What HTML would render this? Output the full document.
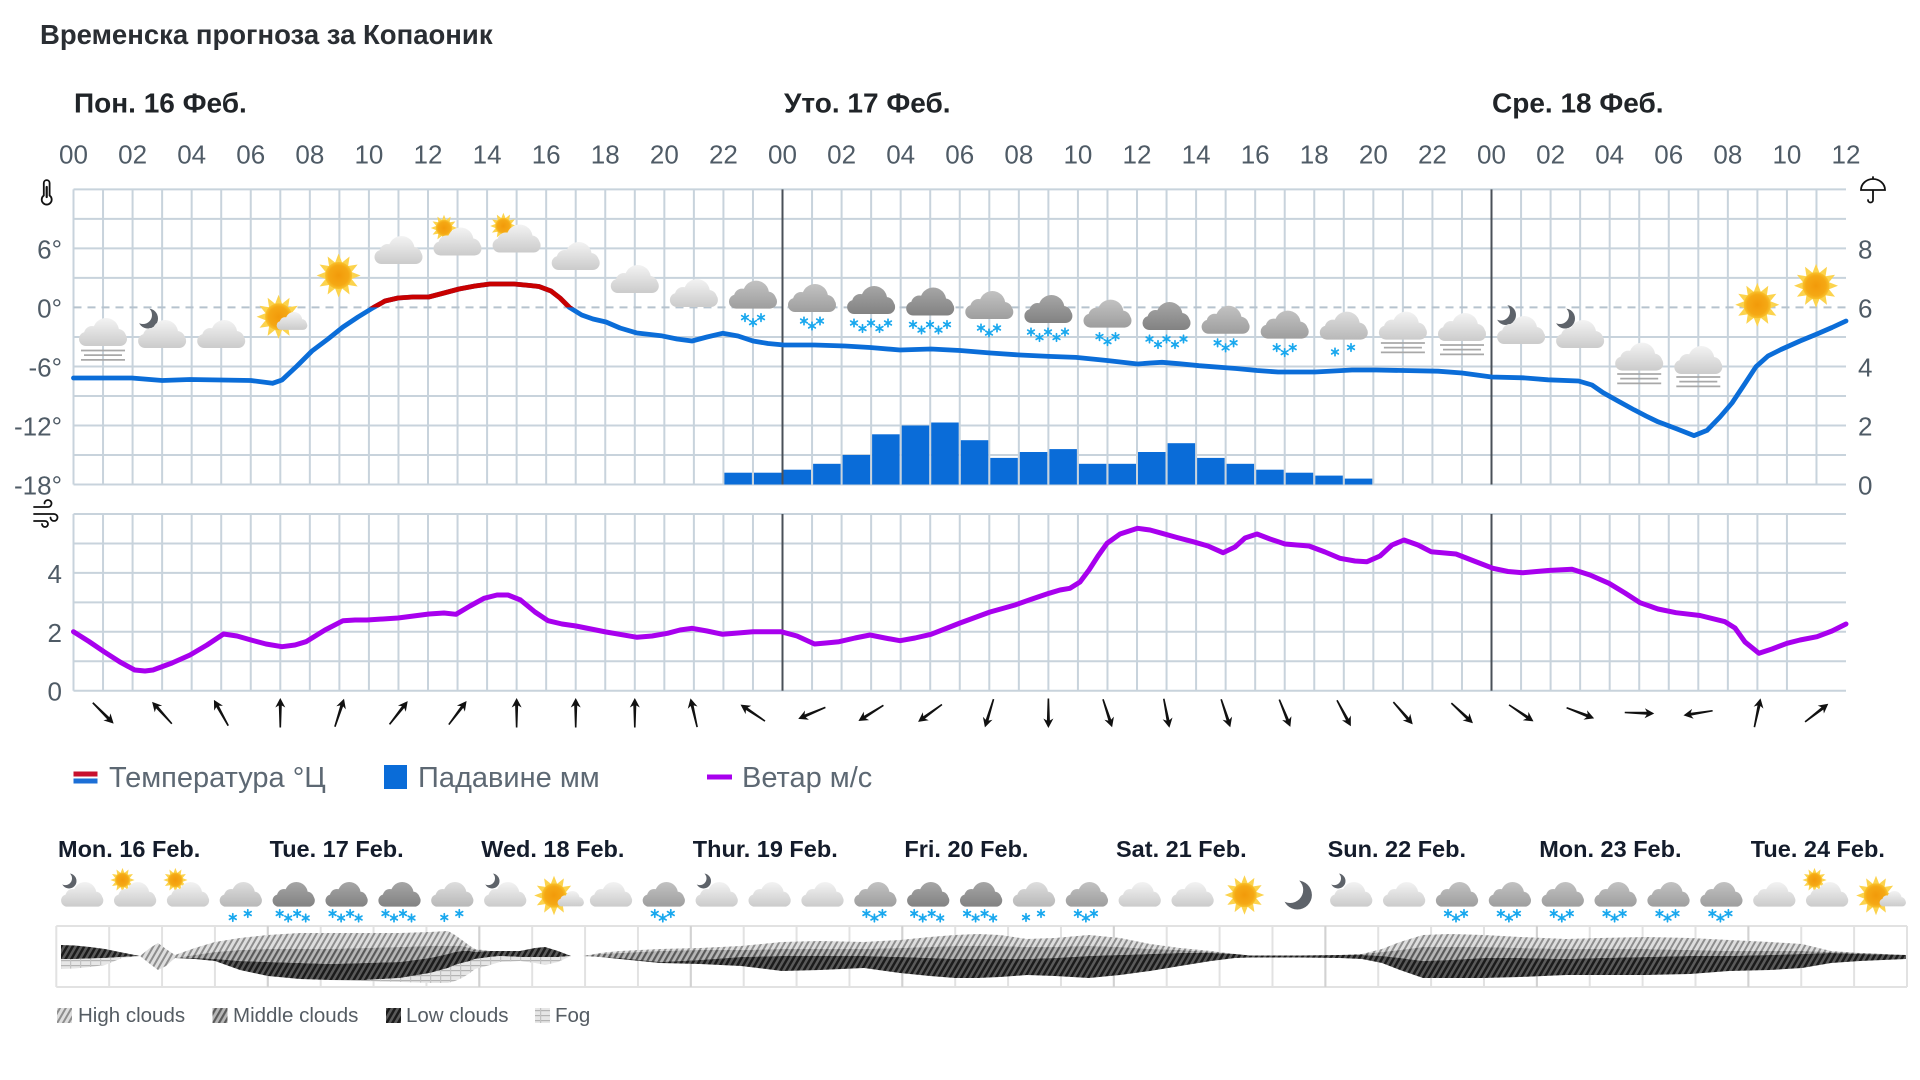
<!DOCTYPE html>
<html><head><meta charset="utf-8"><style>
html,body{margin:0;padding:0;background:#fff;width:1920px;height:1080px;overflow:hidden}
svg{display:block}
text{font-family:"Liberation Sans",Arial,sans-serif}
</style></head><body>
<svg width="1920" height="1080" viewBox="0 0 1920 1080" xmlns="http://www.w3.org/2000/svg">
<defs>
<linearGradient id="gL" gradientUnits="userSpaceOnUse" x1="0" y1="0" x2="0" y2="28"><stop offset="0" stop-color="#f3f3f3"/><stop offset="1" stop-color="#cbcbcb"/></linearGradient>
<linearGradient id="gL2" gradientUnits="userSpaceOnUse" x1="0" y1="0" x2="0" y2="28"><stop offset="0" stop-color="#dedede"/><stop offset="1" stop-color="#b8b8b8"/></linearGradient>
<linearGradient id="gM" gradientUnits="userSpaceOnUse" x1="0" y1="0" x2="0" y2="28"><stop offset="0" stop-color="#c2c2c2"/><stop offset="1" stop-color="#9e9e9e"/></linearGradient>
<linearGradient id="gD" gradientUnits="userSpaceOnUse" x1="0" y1="0" x2="0" y2="28"><stop offset="0" stop-color="#a6a6a6"/><stop offset="1" stop-color="#828282"/></linearGradient>
<radialGradient id="gS"><stop offset="0" stop-color="#f29a0a"/><stop offset="0.75" stop-color="#f5a814"/><stop offset="1" stop-color="#f9c12c"/></radialGradient>
<g id="cL" fill="url(#gL)"><circle cx="14" cy="16" r="8"/><circle cx="28" cy="13" r="13"/><circle cx="40" cy="19" r="8"/><rect x="1" y="14" width="48" height="14" rx="7"/></g>
<g id="cL2" fill="url(#gL2)"><circle cx="14" cy="16" r="8"/><circle cx="28" cy="13" r="13"/><circle cx="40" cy="19" r="8"/><rect x="1" y="14" width="48" height="14" rx="7"/></g>
<g id="cM" fill="url(#gM)"><circle cx="14" cy="16" r="8"/><circle cx="28" cy="13" r="13"/><circle cx="40" cy="19" r="8"/><rect x="1" y="14" width="48" height="14" rx="7"/></g>
<g id="cD" fill="url(#gD)"><circle cx="14" cy="16" r="8"/><circle cx="28" cy="13" r="13"/><circle cx="40" cy="19" r="8"/><rect x="1" y="14" width="48" height="14" rx="7"/></g>
<g id="sun"><polygon fill="#fcd34d" points="0,-22 3.49,-13.04 11,-19.05 9.55,-9.55 19.05,-11 13.04,-3.49 22,0 13.04,3.49 19.05,11 9.55,9.55 11,19.05 3.49,13.04 0,22 -3.49,13.04 -11,19.05 -9.55,9.55 -19.05,11 -13.04,3.49 -22,0 -13.04,-3.49 -19.05,-11 -9.55,-9.55 -11,-19.05 -3.49,-13.04"/><circle r="13.5" fill="url(#gS)"/></g>
<mask id="mm" maskUnits="userSpaceOnUse" x="-15" y="-15" width="30" height="30"><rect x="-15" y="-15" width="30" height="30" fill="#fff"/><circle cx="-5" cy="-3.5" r="9" fill="#000"/></mask>
<g id="moon"><circle r="10" fill="#5e636a" mask="url(#mm)"/></g>
<g id="fog" stroke="#a8a8a8" stroke-width="1.8"><line x1="3" y1="0" x2="47" y2="0"/><line x1="6" y1="4.6" x2="44" y2="4.6"/><line x1="3" y1="9.4" x2="47" y2="9.4"/></g>
<g id="sf" stroke="#1aa8ee" stroke-width="1.7" stroke-linecap="round"><line x1="0" y1="-3.8" x2="0" y2="3.8"/><line x1="-3.3" y1="-1.9" x2="3.3" y2="1.9"/><line x1="-3.3" y1="1.9" x2="3.3" y2="-1.9"/></g>
<g id="arr"><polygon points="0,-15 5,-5.5 1.5,-7.5 0.8,14.5 -0.8,14.5 -1.5,-7.5 -5,-5.5" fill="#111"/></g>
<pattern id="pH" width="5" height="5" patternUnits="userSpaceOnUse" patternTransform="rotate(30)"><rect width="5" height="5" fill="#dedede"/><rect width="2" height="5" fill="#8e8e8e"/></pattern>
<pattern id="pM" width="5" height="5" patternUnits="userSpaceOnUse" patternTransform="rotate(30)"><rect width="5" height="5" fill="#b6b6b6"/><rect width="2.2" height="5" fill="#5a5a5a"/></pattern>
<pattern id="pL" width="5" height="5" patternUnits="userSpaceOnUse" patternTransform="rotate(30)"><rect width="5" height="5" fill="#5a5a5a"/><rect width="2.5" height="5" fill="#1b1b1b"/></pattern>
<pattern id="pF" width="10" height="5" patternUnits="userSpaceOnUse"><rect width="10" height="5" fill="#e6e6e6"/><rect width="10" height="1.2" fill="#b4b4b4"/><rect width="1.2" height="5" fill="#c2c2c2"/></pattern>
<clipPath id="above"><rect x="0" y="0" width="1920" height="307.4"/></clipPath>
</defs>

<!-- Title -->
<text x="40" y="44" font-size="27.5" font-weight="bold" fill="#2a2e33">Временска прогноза за Копаоник</text>

<!-- Day headers -->
<g font-size="28" font-weight="bold" fill="#202428">
<text x="74" y="112.5">Пон. 16 Феб.</text>
<text x="784" y="112.5">Уто. 17 Феб.</text>
<text x="1492" y="112.5">Сре. 18 Феб.</text>
</g>

<!-- Hour labels -->
<g font-size="26" fill="#4f5b66" text-anchor="middle">
<text x="73.5" y="163.5">00</text><text x="132.58" y="163.5">02</text><text x="191.67" y="163.5">04</text><text x="250.75" y="163.5">06</text><text x="309.84" y="163.5">08</text><text x="368.92" y="163.5">10</text><text x="428" y="163.5">12</text><text x="487.09" y="163.5">14</text><text x="546.17" y="163.5">16</text><text x="605.26" y="163.5">18</text><text x="664.34" y="163.5">20</text><text x="723.42" y="163.5">22</text>
<text x="782.51" y="163.5">00</text><text x="841.59" y="163.5">02</text><text x="900.68" y="163.5">04</text><text x="959.76" y="163.5">06</text><text x="1018.84" y="163.5">08</text><text x="1077.93" y="163.5">10</text><text x="1137.01" y="163.5">12</text><text x="1196.1" y="163.5">14</text><text x="1255.18" y="163.5">16</text><text x="1314.26" y="163.5">18</text><text x="1373.35" y="163.5">20</text><text x="1432.43" y="163.5">22</text>
<text x="1491.52" y="163.5">00</text><text x="1550.6" y="163.5">02</text><text x="1609.68" y="163.5">04</text><text x="1668.77" y="163.5">06</text><text x="1727.85" y="163.5">08</text><text x="1786.94" y="163.5">10</text><text x="1846.02" y="163.5">12</text>
</g>

<!-- Grid temperature -->
<g stroke="#c8d3dc" stroke-width="2" fill="none">
<path d="M73.5 189.4v295.1m29.542-295.1v295.1m29.542-295.1v295.1m29.542-295.1v295.1m29.542-295.1v295.1m29.542-295.1v295.1m29.542-295.1v295.1m29.542-295.1v295.1m29.542-295.1v295.1m29.542-295.1v295.1m29.542-295.1v295.1m29.542-295.1v295.1m29.542-295.1v295.1m29.542-295.1v295.1m29.542-295.1v295.1m29.542-295.1v295.1m29.542-295.1v295.1m29.542-295.1v295.1m29.542-295.1v295.1m29.542-295.1v295.1m29.542-295.1v295.1m29.542-295.1v295.1m29.542-295.1v295.1m29.542-295.1v295.1m29.542-295.1v295.1m29.542-295.1v295.1m29.542-295.1v295.1m29.542-295.1v295.1m29.542-295.1v295.1m29.542-295.1v295.1m29.542-295.1v295.1m29.542-295.1v295.1m29.542-295.1v295.1m29.542-295.1v295.1m29.542-295.1v295.1m29.542-295.1v295.1m29.542-295.1v295.1m29.542-295.1v295.1m29.542-295.1v295.1m29.542-295.1v295.1m29.542-295.1v295.1m29.542-295.1v295.1m29.542-295.1v295.1m29.542-295.1v295.1m29.542-295.1v295.1m29.542-295.1v295.1m29.542-295.1v295.1m29.542-295.1v295.1m29.542-295.1v295.1m29.542-295.1v295.1m29.542-295.1v295.1m29.542-295.1v295.1m29.542-295.1v295.1m29.542-295.1v295.1m29.542-295.1v295.1m29.542-295.1v295.1m29.542-295.1v295.1m29.542-295.1v295.1m29.542-295.1v295.1m29.542-295.1v295.1"/>
<path d="M73.5 189.4H1846M73.5 218.9H1846M73.5 248.4H1846M73.5 277.9H1846M73.5 336.95H1846M73.5 366.5H1846M73.5 396H1846M73.5 425.5H1846M73.5 455H1846M73.5 484.5H1846"/>
<!-- wind grid -->
<path d="M73.5 514v176.7m29.542-176.7v176.7m29.542-176.7v176.7m29.542-176.7v176.7m29.542-176.7v176.7m29.542-176.7v176.7m29.542-176.7v176.7m29.542-176.7v176.7m29.542-176.7v176.7m29.542-176.7v176.7m29.542-176.7v176.7m29.542-176.7v176.7m29.542-176.7v176.7m29.542-176.7v176.7m29.542-176.7v176.7m29.542-176.7v176.7m29.542-176.7v176.7m29.542-176.7v176.7m29.542-176.7v176.7m29.542-176.7v176.7m29.542-176.7v176.7m29.542-176.7v176.7m29.542-176.7v176.7m29.542-176.7v176.7m29.542-176.7v176.7m29.542-176.7v176.7m29.542-176.7v176.7m29.542-176.7v176.7m29.542-176.7v176.7m29.542-176.7v176.7m29.542-176.7v176.7m29.542-176.7v176.7m29.542-176.7v176.7m29.542-176.7v176.7m29.542-176.7v176.7m29.542-176.7v176.7m29.542-176.7v176.7m29.542-176.7v176.7m29.542-176.7v176.7m29.542-176.7v176.7m29.542-176.7v176.7m29.542-176.7v176.7m29.542-176.7v176.7m29.542-176.7v176.7m29.542-176.7v176.7m29.542-176.7v176.7m29.542-176.7v176.7m29.542-176.7v176.7m29.542-176.7v176.7m29.542-176.7v176.7m29.542-176.7v176.7m29.542-176.7v176.7m29.542-176.7v176.7m29.542-176.7v176.7m29.542-176.7v176.7m29.542-176.7v176.7m29.542-176.7v176.7m29.542-176.7v176.7m29.542-176.7v176.7"/>
<path d="M73.5 514H1846M73.5 543.45H1846M73.5 572.9H1846M73.5 602.35H1846M73.5 631.8H1846M73.5 661.25H1846M73.5 690.7H1846"/>
</g>
<line x1="73.5" y1="307.4" x2="1846" y2="307.4" stroke="#b6c3ce" stroke-width="2" stroke-dasharray="8 6"/>

<!-- Axis labels -->
<g font-size="26" fill="#4f5b66">
<g text-anchor="end">
<text x="62" y="258.4">6°</text><text x="62" y="317.4">0°</text><text x="62" y="376.5">-6°</text><text x="62" y="435.5">-12°</text><text x="62" y="494.5">-18°</text>
<text x="62" y="582.9">4</text><text x="62" y="641.8">2</text><text x="62" y="700.7">0</text>
</g>
<text x="1858" y="258.4">8</text><text x="1858" y="317.4">6</text><text x="1858" y="376.5">4</text><text x="1858" y="435.5">2</text><text x="1858" y="494.5">0</text>
</g>

<!-- axis icons -->
<g fill="none" stroke="#111" stroke-width="1.8" stroke-linecap="round">
<path d="M43.8 195.5V183a2.9 2.9 0 0 1 5.8 0v12.5a5 5 0 1 1 -5.8 0z"/>
<path d="M46.7 187v10" stroke-width="2.2"/>
<path d="M34 507h14a3.5 3.5 0 1 0 -3.5 -3.5M34 514h20a3.5 3.5 0 1 1 -3.5 3.5M34 521h11a3 3 0 1 1 -3 3"/>
<path d="M1861 190a12 11 0 0 1 24 0zM1873 190v10a2.5 2.5 0 0 1 -5 0M1873 177v2"/>
</g>

<!-- Precipitation bars -->
<g fill="#0a6cd8">
<rect x="724.4" y="472.7" width="27.5" height="11.8"/>
<rect x="754.0" y="472.7" width="27.5" height="11.8"/>
<rect x="783.5" y="469.7" width="27.5" height="14.8"/>
<rect x="813.1" y="463.8" width="27.5" height="20.7"/>
<rect x="842.6" y="455.0" width="27.5" height="29.5"/>
<rect x="872.1" y="434.3" width="27.5" height="50.2"/>
<rect x="901.7" y="425.5" width="27.5" height="59.0"/>
<rect x="931.2" y="422.5" width="27.5" height="62.0"/>
<rect x="960.8" y="440.2" width="27.5" height="44.3"/>
<rect x="990.3" y="457.9" width="27.5" height="26.6"/>
<rect x="1019.8" y="452.0" width="27.5" height="32.5"/>
<rect x="1049.4" y="449.1" width="27.5" height="35.4"/>
<rect x="1078.9" y="463.8" width="27.5" height="20.7"/>
<rect x="1108.5" y="463.8" width="27.5" height="20.7"/>
<rect x="1138.0" y="452.0" width="27.5" height="32.5"/>
<rect x="1167.6" y="443.2" width="27.5" height="41.3"/>
<rect x="1197.1" y="457.9" width="27.5" height="26.6"/>
<rect x="1226.6" y="463.8" width="27.5" height="20.7"/>
<rect x="1256.2" y="469.7" width="27.5" height="14.8"/>
<rect x="1285.7" y="472.7" width="27.5" height="11.8"/>
<rect x="1315.3" y="475.6" width="27.5" height="8.9"/>
<rect x="1344.8" y="478.6" width="27.5" height="5.9"/>
</g>

<!-- Day separators -->
<g stroke="#4a5058" stroke-width="2">
<line x1="782.5" y1="189.4" x2="782.5" y2="484.5"/><line x1="1491.5" y1="189.4" x2="1491.5" y2="484.5"/>
<line x1="782.5" y1="514" x2="782.5" y2="690.7"/><line x1="1491.5" y1="514" x2="1491.5" y2="690.7"/>
</g>

<!-- Temperature line -->
<g fill="none" stroke-width="4.8" stroke-linejoin="round" stroke-linecap="round">
<polyline stroke="#0b6dd8" points="73.5,378 131.7,378 162.3,380.5 189.8,379.5 251,380.5 272.5,383.3 282,380 297,366 312,351 328,339 343,327 358,317 373.5,307.5 385,301 398,298 413,297 428.7,297 444,293 459,289 475,286 490,284 514,284 530,285.5 539,286.5 551,291 560,298 569.5,307.5 581.7,315 593,319 606,322 620,328 637,333 661,335.7 677,339 692,341 707,337 722.6,333.3 738,336 753,341 768,343.5 784,345 814.5,345 845,346 870,347.5 900,350 931,349 960,350.5 990.6,353 1020,355 1048.8,356.4 1076,357.4 1107,360.5 1137.6,364 1150,363 1162,362.3 1180,363.8 1199,365.7 1236,368.5 1257,370.5 1278,372 1315,372 1352,370 1376,370 1438,371.2 1462,373 1491.5,377 1523,377.8 1548,379.8 1578.5,381 1592,385 1603,392.6 1618,401 1634,409.8 1646,416 1658,421.8 1676.5,428.7 1694,435.6 1707,430.4 1720,417 1732,403 1744,385 1756,366.7 1768,356 1781,349.5 1800,341 1817,334 1832,327.5 1846,321"/>
<polyline clip-path="url(#above)" stroke="#c80000" points="358,317 373.5,307.5 385,301 398,298 413,297 428.7,297 444,293 459,289 475,286 490,284 514,284 530,285.5 539,286.5 551,291 560,298 569.5,307.5 581.7,315"/>
</g>

<!-- Wind line -->
<polyline fill="none" stroke="#a800ee" stroke-width="5" stroke-linejoin="round" stroke-linecap="round" points="73.5,631.7 89,641.5 104,651.7 120,662 134.7,670 145,671 153,670 172,663 190,655 207,645 223.5,634 237,636 251,640 266,644 282,646.7 295,645 306,641.7 325,630 343,620.7 355,620 367,620 398,618 429,614 444,613 456,614.3 470,606 484,598.3 497,595 508,595 520.5,600 535,612 548,620.7 562,624 576,626 606,632 637,637.3 652,636 667.5,633.3 680,630 692,628.3 707,631 722.6,634.3 738,633 753,631.7 781,631.7 797,636 814.5,644 826,643 839,641.7 855,638 870,635 885,638 900,640.7 915,638 931,634.3 946,628.5 960,623 990,612 1015,605 1032,599 1049,593.3 1060,590 1070,588.3 1080,582 1089,570 1098,556 1107,543.3 1120,534 1137.6,528.3 1150,530 1162,533.3 1177,537.5 1193,541.7 1208,546 1223,552.7 1235,547 1245,538 1257,534 1270,539 1285,544 1309,546 1325,552 1340,558.3 1355,561 1367,561.7 1380,556 1392,545 1404,540 1418,545 1431,551.7 1456,554 1474,561 1493,568.3 1508,571.5 1523,572.7 1548,570.5 1572,569.3 1590,575 1609,583.3 1625,593 1640,602.7 1658,609 1676,612.7 1700,615.5 1725,621.7 1735,628 1745,642 1759,653.3 1772,649 1787,643.3 1800,640 1817,636.7 1832,631 1846,624"/>

<!-- Top weather icons -->
<g>
<use href="#cL" x="78" y="318"/><use href="#fog" x="78" y="350.5"/>
<use href="#moon" x="148" y="318.5"/><use href="#cL" x="137.1" y="320"/>
<use href="#cL" x="196.2" y="320"/>
<use href="#sun" x="278.6" y="316.8"/><use href="#cL" transform="translate(276,312) scale(0.64)"/>
<use href="#sun" x="338.6" y="275.5"/>
<use href="#cL" x="373.5" y="236"/>
<use href="#sun" transform="translate(444,228) scale(0.6)"/><use href="#cL" x="432.5" y="227.5"/>
<use href="#sun" transform="translate(503.4,226) scale(0.6)"/><use href="#cL" x="491.6" y="224.5"/>
<use href="#cL" x="550.7" y="242"/>
<use href="#cL" x="609.8" y="265"/>
<use href="#cL" x="668.9" y="279"/>
<use href="#cM" x="728" y="280.6"/>
<use href="#cM" x="787" y="284"/>
<use href="#cD" x="846.1" y="286"/>
<use href="#cD" x="905.2" y="287.5"/>
<use href="#cM" x="964.3" y="291"/>
<use href="#cD" x="1023.4" y="295"/>
<use href="#cM" x="1082.5" y="299.6"/>
<use href="#cD" x="1141.5" y="302"/>
<use href="#cM" x="1200.6" y="305.8"/>
<use href="#cM" x="1259.7" y="310.6"/>
<use href="#cL2" x="1318.8" y="311.6"/>
<use href="#cL" x="1377.9" y="311.6"/><use href="#fog" x="1377.9" y="343"/>
<use href="#cL" x="1437" y="313"/><use href="#fog" x="1437" y="345"/>
<use href="#moon" x="1506" y="315"/><use href="#cL" x="1496.1" y="316"/>
<use href="#moon" x="1565" y="318.5"/><use href="#cL" x="1555.1" y="320"/>
<use href="#cL" x="1614.2" y="342.6"/><use href="#fog" x="1614.2" y="374"/>
<use href="#cL" x="1673.3" y="346"/><use href="#fog" x="1673.3" y="377"/>
<use href="#sun" x="1757.3" y="304.8"/>
<use href="#sun" x="1816" y="285.8"/>
</g>
<!-- Top snowflakes -->
<g>
<use href="#sf" x="745" y="317.6"/><use href="#sf" x="753" y="322.6"/><use href="#sf" x="761" y="317.6"/>
<use href="#sf" x="804" y="321"/><use href="#sf" x="812" y="326"/><use href="#sf" x="820" y="321"/>
<use href="#sf" x="854" y="323"/><use href="#sf" x="862.5" y="328.5"/><use href="#sf" x="871" y="323"/><use href="#sf" x="879.5" y="328.5"/><use href="#sf" x="888" y="323"/>
<use href="#sf" x="913" y="324.5"/><use href="#sf" x="921.5" y="330"/><use href="#sf" x="930" y="324.5"/><use href="#sf" x="938.5" y="330"/><use href="#sf" x="947" y="324.5"/>
<use href="#sf" x="981" y="328"/><use href="#sf" x="989" y="333"/><use href="#sf" x="997" y="328"/>
<use href="#sf" x="1031" y="332"/><use href="#sf" x="1039.5" y="337.5"/><use href="#sf" x="1048" y="332"/><use href="#sf" x="1056.5" y="337.5"/><use href="#sf" x="1065" y="332"/>
<use href="#sf" x="1099.5" y="336.6"/><use href="#sf" x="1107.5" y="341.6"/><use href="#sf" x="1115.5" y="336.6"/>
<use href="#sf" x="1149.5" y="339"/><use href="#sf" x="1158" y="344.5"/><use href="#sf" x="1166.5" y="339"/><use href="#sf" x="1175" y="344.5"/><use href="#sf" x="1183.5" y="339"/>
<use href="#sf" x="1217.6" y="342.8"/><use href="#sf" x="1225.6" y="347.8"/><use href="#sf" x="1233.6" y="342.8"/>
<use href="#sf" x="1276.7" y="347.6"/><use href="#sf" x="1284.7" y="352.6"/><use href="#sf" x="1292.7" y="347.6"/>
<use href="#sf" x="1335" y="352"/><use href="#sf" x="1351" y="347.5"/>
</g>

<!-- Wind arrows -->
<g>
<use href="#arr" transform="translate(103.04,713) rotate(135)"/>
<use href="#arr" transform="translate(162.13,713) rotate(-42)"/>
<use href="#arr" transform="translate(221.21,713) rotate(-29)"/>
<use href="#arr" transform="translate(280.29,713) rotate(0)"/>
<use href="#arr" transform="translate(339.38,713) rotate(18)"/>
<use href="#arr" transform="translate(398.46,713) rotate(38)"/>
<use href="#arr" transform="translate(457.55,713) rotate(37)"/>
<use href="#arr" transform="translate(516.63,713) rotate(0)"/>
<use href="#arr" transform="translate(575.71,713) rotate(0)"/>
<use href="#arr" transform="translate(634.8,713) rotate(0)"/>
<use href="#arr" transform="translate(693.88,713) rotate(-13)"/>
<use href="#arr" transform="translate(752.97,713) rotate(-56)"/>
<use href="#arr" transform="translate(812.05,713) rotate(-113)"/>
<use href="#arr" transform="translate(871.13,713) rotate(-122)"/>
<use href="#arr" transform="translate(930.22,713) rotate(-126)"/>
<use href="#arr" transform="translate(989.3,713) rotate(-163)"/>
<use href="#arr" transform="translate(1048.39,713) rotate(180)"/>
<use href="#arr" transform="translate(1107.47,713) rotate(162)"/>
<use href="#arr" transform="translate(1166.55,713) rotate(169)"/>
<use href="#arr" transform="translate(1225.64,713) rotate(162)"/>
<use href="#arr" transform="translate(1284.72,713) rotate(158)"/>
<use href="#arr" transform="translate(1343.81,713) rotate(152)"/>
<use href="#arr" transform="translate(1402.89,713) rotate(139)"/>
<use href="#arr" transform="translate(1461.97,713) rotate(133)"/>
<use href="#arr" transform="translate(1521.06,713) rotate(124)"/>
<use href="#arr" transform="translate(1580.14,713) rotate(111)"/>
<use href="#arr" transform="translate(1639.23,713) rotate(92)"/>
<use href="#arr" transform="translate(1698.31,713) rotate(-99)"/>
<use href="#arr" transform="translate(1757.39,713) rotate(12)"/>
<use href="#arr" transform="translate(1816.48,713) rotate(52)"/>
</g>

<!-- Legend -->
<rect x="73.5" y="771.5" width="24" height="5" fill="#c8102e"/>
<rect x="73.5" y="778.5" width="24" height="5" fill="#1c6fd6"/>
<rect x="384" y="765" width="23" height="24" fill="#0a6cd8"/>
<rect x="707" y="774.5" width="25" height="5" fill="#a800ee"/>
<g font-size="29" fill="#5d6873">
<text x="109" y="787">Температура °Ц</text>
<text x="418" y="787">Падавине мм</text>
<text x="742" y="787">Ветар м/с</text>
</g>

<!-- Bottom day labels -->
<g font-size="23.5" font-weight="bold" fill="#141c2b">
<text x="58" y="857">Mon. 16 Feb.</text>
<text x="269.6" y="857">Tue. 17 Feb.</text>
<text x="481.2" y="857">Wed. 18 Feb.</text>
<text x="692.8" y="857">Thur. 19 Feb.</text>
<text x="904.4" y="857">Fri. 20 Feb.</text>
<text x="1116" y="857">Sat. 21 Feb.</text>
<text x="1327.6" y="857">Sun. 22 Feb.</text>
<text x="1539.2" y="857">Mon. 23 Feb.</text>
<text x="1750.8" y="857">Tue. 24 Feb.</text>
</g>

<!-- Bottom icons -->
<g>
<use href="#moon" transform="translate(69,881) scale(0.75)"/><use href="#cL" transform="translate(60.2,882) scale(0.88)"/>
<use href="#sun" transform="translate(122.5,880) scale(0.55)"/><use href="#cL" transform="translate(113.1,882) scale(0.88)"/>
<use href="#sun" transform="translate(175.4,880) scale(0.55)"/><use href="#cL" transform="translate(166,882) scale(0.88)"/>
<use href="#cL2" transform="translate(218.8,882) scale(0.88)"/>
<use href="#cD" transform="translate(271.7,882) scale(0.88)"/>
<use href="#cD" transform="translate(324.6,882) scale(0.88)"/>
<use href="#cD" transform="translate(377.5,882) scale(0.88)"/>
<use href="#cL2" transform="translate(430.3,882) scale(0.88)"/>
<use href="#moon" transform="translate(492,881) scale(0.75)"/><use href="#cL" transform="translate(483.2,882) scale(0.88)"/>
<use href="#sun" transform="translate(554,895.5) scale(0.9)"/><use href="#cL" transform="translate(557,891) scale(0.55)"/>
<use href="#cL" transform="translate(589,882) scale(0.88)"/>
<use href="#cM" transform="translate(641.8,882) scale(0.88)"/>
<use href="#moon" transform="translate(703.5,881) scale(0.75)"/><use href="#cL" transform="translate(694.7,882) scale(0.88)"/>
<use href="#cL" transform="translate(747.6,882) scale(0.88)"/>
<use href="#cL" transform="translate(800.5,882) scale(0.88)"/>
<use href="#cM" transform="translate(853.4,882) scale(0.88)"/>
<use href="#cD" transform="translate(906.2,882) scale(0.88)"/>
<use href="#cD" transform="translate(959.1,882) scale(0.88)"/>
<use href="#cL2" transform="translate(1012,882) scale(0.88)"/>
<use href="#cM" transform="translate(1064.9,882) scale(0.88)"/>
<use href="#cL" transform="translate(1117.7,882) scale(0.88)"/>
<use href="#cL" transform="translate(1170.6,882) scale(0.88)"/>
<use href="#sun" transform="translate(1244.5,895) scale(0.9)"/>
<use href="#moon" transform="translate(1297.4,895) scale(1.45)"/>
<use href="#moon" transform="translate(1338,881) scale(0.75)"/><use href="#cL" transform="translate(1329.2,882) scale(0.88)"/>
<use href="#cL" transform="translate(1382.1,882) scale(0.88)"/>
<use href="#cM" transform="translate(1435,882) scale(0.88)"/>
<use href="#cM" transform="translate(1487.9,882) scale(0.88)"/>
<use href="#cM" transform="translate(1540.8,882) scale(0.88)"/>
<use href="#cM" transform="translate(1593.6,882) scale(0.88)"/>
<use href="#cM" transform="translate(1646.5,882) scale(0.88)"/>
<use href="#cM" transform="translate(1699.4,882) scale(0.88)"/>
<use href="#cL" transform="translate(1752.3,882) scale(0.88)"/>
<use href="#sun" transform="translate(1814.5,880) scale(0.55)"/><use href="#cL" transform="translate(1805.1,882) scale(0.88)"/>
<use href="#sun" transform="translate(1876,895.5) scale(0.9)"/><use href="#cL" transform="translate(1879,891) scale(0.55)"/>
</g>
<g>
<use href="#sf" x="232.8" y="917.5"/><use href="#sf" x="247.8" y="913.5"/>
<use href="#sf" x="279.7" y="913.5"/><use href="#sf" x="288.2" y="918"/><use href="#sf" x="297.2" y="913.5"/><use href="#sf" x="305.7" y="918"/>
<use href="#sf" x="332.6" y="913.5"/><use href="#sf" x="341.1" y="918"/><use href="#sf" x="350.1" y="913.5"/><use href="#sf" x="358.6" y="918"/>
<use href="#sf" x="385.5" y="913.5"/><use href="#sf" x="394" y="918"/><use href="#sf" x="403" y="913.5"/><use href="#sf" x="411.5" y="918"/>
<use href="#sf" x="444.3" y="917.5"/><use href="#sf" x="459.3" y="913.5"/>
<use href="#sf" x="654.8" y="913.5"/><use href="#sf" x="662.8" y="918"/><use href="#sf" x="670.8" y="913.5"/>
<use href="#sf" x="866.4" y="913.5"/><use href="#sf" x="874.4" y="918"/><use href="#sf" x="882.4" y="913.5"/>
<use href="#sf" x="914.2" y="913.5"/><use href="#sf" x="922.7" y="918"/><use href="#sf" x="931.7" y="913.5"/><use href="#sf" x="940.2" y="918"/>
<use href="#sf" x="967.1" y="913.5"/><use href="#sf" x="975.6" y="918"/><use href="#sf" x="984.6" y="913.5"/><use href="#sf" x="993.1" y="918"/>
<use href="#sf" x="1026" y="917.5"/><use href="#sf" x="1041" y="913.5"/>
<use href="#sf" x="1077.9" y="913.5"/><use href="#sf" x="1085.9" y="918"/><use href="#sf" x="1093.9" y="913.5"/>
<use href="#sf" x="1448" y="913.5"/><use href="#sf" x="1456" y="918"/><use href="#sf" x="1464" y="913.5"/>
<use href="#sf" x="1500.9" y="913.5"/><use href="#sf" x="1508.9" y="918"/><use href="#sf" x="1516.9" y="913.5"/>
<use href="#sf" x="1553.8" y="913.5"/><use href="#sf" x="1561.8" y="918"/><use href="#sf" x="1569.8" y="913.5"/>
<use href="#sf" x="1606.6" y="913.5"/><use href="#sf" x="1614.6" y="918"/><use href="#sf" x="1622.6" y="913.5"/>
<use href="#sf" x="1659.5" y="913.5"/><use href="#sf" x="1667.5" y="918"/><use href="#sf" x="1675.5" y="913.5"/>
<use href="#sf" x="1712.4" y="913.5"/><use href="#sf" x="1720.4" y="918"/><use href="#sf" x="1728.4" y="913.5"/>
</g>

<!-- Cloud band box -->
<g stroke="#e2e2e2" stroke-width="2" fill="none">
<path d="M56.3 926v61m52.877-61v61m52.877-61v61m52.877-61v61m52.877-61v61m52.877-61v61m52.877-61v61m52.877-61v61m52.877-61v61m52.877-61v61m52.877-61v61m52.877-61v61m52.877-61v61m52.877-61v61m52.877-61v61m52.877-61v61m52.877-61v61m52.877-61v61m52.877-61v61m52.877-61v61m52.877-61v61m52.877-61v61m52.877-61v61m52.877-61v61m52.877-61v61m52.877-61v61m52.877-61v61m52.877-61v61m52.877-61v61m52.877-61v61m52.877-61v61m52.877-61v61m52.877-61v61m52.877-61v61m52.877-61v61m52.877-61v61"/>
<path d="M56.3 926H1907M56.3 987H1907"/>
</g>
<g stroke="#d2d2d2" stroke-width="2"><path d="M267.8 926v61M479.3 926v61M690.8 926v61M902.3 926v61M1113.8 926v61M1325.4 926v61M1536.9 926v61M1748.4 926v61"/></g>

<!-- Cloud layers -->
<polygon fill="url(#pL)" points="61,945 75,945.5 90,947 105,949 122,952.5 140,956 122,957 105,958 90,958.5 75,959 61,959"/>
<polygon fill="url(#pF)" points="61,959 75,959 90,958.5 105,958 122,957 140,956 122,958 105,965 90,967 75,968.5 61,969"/>
<polygon fill="url(#pH)" points="140,956 150,948 158,943 166,949 175,955 175,958 166,966 158,970 150,964"/>
<polygon fill="url(#pH)" points="175,955 195,948 215,942 240,938 268,935 300,933 330,933 365,933 400,933 430,932 448,931 455,935 462,940 470,946 475,949 490,951 500,951 520,951 535,948 545,947 558,951 571,956 558,951 545,947 535,948 520,951 500,951 490,951 475,950 470,948 462,946 455,946 448,946 430,946 400,947 365,948 330,949 300,949 268,949 240,950 215,952 195,955 175,958"/>
<polygon fill="url(#pM)" points="175,958 195,955 215,952 240,950 268,949 300,949 330,949 365,948 400,947 430,946 448,946 455,946 462,946 470,948 475,950 490,951 500,951 520,951 535,948 545,947 558,951 571,956 558,951 545,947 535,948 520,951 500,951 490,951 475,952 470,951 462,951 455,952 448,954 430,958 400,962 365,963 330,964 300,963 268,962 240,961 215,959 195,958 175,958"/>
<polygon fill="url(#pL)" points="175,958 195,958 215,959 240,961 268,962 300,963 330,964 365,963 400,962 430,958 448,954 455,952 462,951 470,951 475,952 490,951 500,951 520,951 535,948 545,947 558,951 571,956 558,957 545,957 535,957 520,957 500,956 490,957 475,959 470,961 462,963 455,965 448,968 430,973 400,978 365,980 330,980 300,979 268,976 240,970 215,961 195,959 175,958"/>
<polygon fill="url(#pF)" points="175,958 195,959 215,961 240,970 268,976 300,979 330,980 365,980 400,978 430,973 448,968 455,965 462,963 470,961 475,959 490,957 500,956 520,957 535,957 545,957 558,957 571,956 558,962 545,965 535,963 520,961 500,962 490,965 475,969 470,973 462,978 455,981 448,983 430,983 400,982 365,981 330,980 300,979 268,976 240,970 215,961 195,959 175,958"/>
<polygon fill="url(#pH)" points="583,956 600,953 620,951 640,950 660,949 700,948 741,946 782,942 820,941 864,942 900,940 930,937 955,935 978,934 1000,935 1027,939 1055,938 1089,935 1120,938 1150,944 1180,948 1211,951 1235,954 1250,955.5 1300,955.5 1340,955 1362,954 1382,949 1400,942 1423,935 1450,934 1484,935 1520,937 1566,939 1600,938 1647,937 1690,938 1729,940 1770,942 1802,944 1831,951 1860,953 1906,955 1860,953 1831,952 1802,951 1770,951 1729,951 1690,950 1647,949 1600,949 1566,949 1520,948 1484,947 1450,947 1423,947 1400,950 1382,952 1362,954 1340,955 1300,955.5 1250,955.5 1235,954 1211,952 1180,950 1150,949 1120,947 1089,946 1055,947 1027,947 1000,946 978,946 955,946 930,947 900,948 864,949 820,949 782,949 741,950 700,950 660,951 640,952 620,953 600,954"/>
<polygon fill="url(#pM)" points="583,956 600,954 620,953 640,952 660,951 700,950 741,950 782,949 820,949 864,949 900,948 930,947 955,946 978,946 1000,946 1027,947 1055,947 1089,946 1120,947 1150,949 1180,950 1211,952 1235,954 1250,955.5 1300,955.5 1340,955 1362,954 1382,952 1400,950 1423,947 1450,947 1484,947 1520,948 1566,949 1600,949 1647,949 1690,950 1729,951 1770,951 1802,951 1831,952 1860,953 1906,955 1860,954 1831,953 1802,954 1770,955 1729,956 1690,956 1647,957 1600,958 1566,959 1520,958 1484,958 1450,960 1423,961 1400,958 1382,956 1362,955 1340,955 1300,955.5 1250,955.5 1235,954 1211,953 1180,953 1150,954 1120,955 1089,956 1055,958 1027,959 1000,959 978,959 955,959 930,958 900,957 864,956 820,956 782,956 741,957 700,960 660,962 640,960 620,958 600,957"/>
<polygon fill="url(#pL)" points="583,956 600,957 620,958 640,960 660,962 700,960 741,957 782,956 820,956 864,956 900,957 930,958 955,959 978,959 1000,959 1027,959 1055,958 1089,956 1120,955 1150,954 1180,953 1211,953 1235,954 1250,955.5 1300,955.5 1340,955 1362,955 1382,956 1400,958 1423,961 1450,960 1484,958 1520,958 1566,959 1600,958 1647,957 1690,956 1729,956 1770,955 1802,954 1831,953 1860,954 1906,955 1906,959 1860,961 1831,963 1802,968 1770,970 1729,971 1690,974 1647,975 1600,975 1566,975 1520,977 1484,978 1450,978 1423,978 1400,970 1382,963 1362,959 1340,958 1300,957.5 1250,957.5 1235,958 1211,961 1180,966 1150,971 1120,975 1089,978 1055,976 1027,975 1000,977 978,978 955,978 930,976 900,973 864,968 820,970 782,971 741,966 700,964 660,963 640,961 620,959 600,957"/>

<!-- Bottom legend -->
<rect x="57" y="1008" width="15" height="15" fill="url(#pH)"/>
<rect x="212.5" y="1008" width="15" height="15" fill="url(#pM)"/>
<rect x="386" y="1008" width="15" height="15" fill="url(#pL)"/>
<rect x="535" y="1008" width="15" height="15" fill="url(#pF)"/>
<g font-size="20.5" fill="#555c63">
<text x="78" y="1022">High clouds</text>
<text x="233" y="1022">Middle clouds</text>
<text x="406" y="1022">Low clouds</text>
<text x="555" y="1022">Fog</text>
</g>
</svg>
</body></html>
